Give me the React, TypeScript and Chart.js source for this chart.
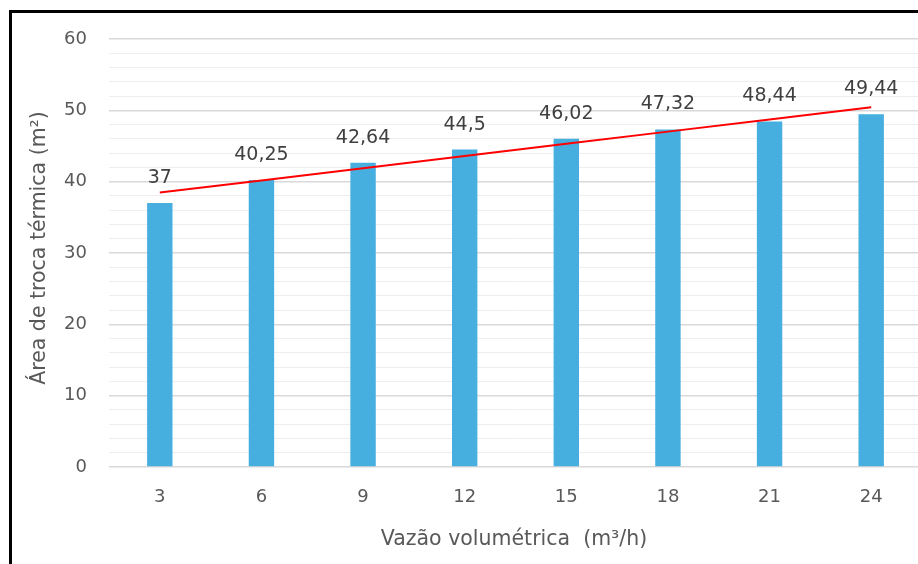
import React, { useEffect, useRef } from "react";
import { Chart, registerables } from "chart.js";

Chart.register(...registerables);

// Volumetric flow rate (m³/h) and the resulting heat-exchange area (m²)
const flowRates: string[] = ["3", "6", "9", "12", "15", "18", "21", "24"];
const areaValues: number[] = [37, 40.25, 42.64, 44.5, 46.02, 47.32, 48.44, 49.44];
const yTickValues: number[] = [0, 10, 20, 30, 40, 50, 60];

const xTitle = "Vazão volumétrica  (m³/h)";
const yTitle = "Área de troca térmica (m²)";

// Least-squares linear trend of the area series
function linearTrend(values: number[]): number[] {
  const n = values.length;
  const xs = values.map((_, i) => i + 1);
  const mx = xs.reduce((a, b) => a + b, 0) / n;
  const my = values.reduce((a, b) => a + b, 0) / n;
  let sxy = 0;
  let sxx = 0;
  xs.forEach((x, i) => {
    sxy += (x - mx) * (values[i] - my);
    sxx += (x - mx) * (x - mx);
  });
  const slope = sxy / sxx;
  return xs.map((x) => my + slope * (x - mx));
}

const trendValues = linearTrend(areaValues);

const FONT = "'DejaVu Sans', sans-serif";
const TEXT = "#595959";

const framePlugin = {
  id: "frame",
  beforeDraw(chart: any) {
    const { ctx, width, height } = chart;
    ctx.save();
    ctx.fillStyle = "#ffffff";
    ctx.fillRect(0, 0, width, height);
    ctx.strokeStyle = "#000000";
    ctx.lineWidth = 3;
    ctx.strokeRect(10.5, 11.5, width + 100, height + 100);
    ctx.restore();
  },
};

const labelsPlugin = {
  id: "valueLabels",
  afterDatasetsDraw(chart: any) {
    const { ctx } = chart;
    const meta = chart.getDatasetMeta(0);
    ctx.save();
    ctx.font = `19px ${FONT}`;
    ctx.fillStyle = "#404040";
    ctx.textAlign = "center";
    ctx.textBaseline = "middle";
    meta.data.forEach((el: any, i: number) => {
      const txt = String(areaValues[i]).replace(".", ",");
      ctx.fillText(txt, el.x, el.y - 25);
    });
    ctx.restore();
  },
};

const titlesPlugin = {
  id: "axisTitles",
  afterDraw(chart: any) {
    const { ctx } = chart;
    ctx.save();
    ctx.font = `20.5px ${FONT}`;
    ctx.fillStyle = TEXT;
    ctx.textAlign = "center";
    ctx.textBaseline = "middle";
    ctx.fillText(xTitle, 514, 540);
    ctx.translate(40, 248);
    ctx.rotate(-Math.PI / 2);
    ctx.fillText(yTitle, 0, 0);
    ctx.restore();
  },
};

export default function App() {
  const canvasRef = useRef<HTMLCanvasElement | null>(null);

  useEffect(() => {
    document.body.style.overflow = "hidden";
    const canvas = canvasRef.current;
    if (!canvas) return;
    const chart = new Chart(canvas, {
      type: "bar",
      data: {
        labels: flowRates,
        datasets: [
          {
            type: "bar" as const,
            data: areaValues,
            backgroundColor: "#47afdf",
            categoryPercentage: 1,
            barPercentage: 0.25,
            order: 1,
          },
          {
            type: "line" as const,
            data: trendValues,
            borderColor: "#ff0000",
            borderWidth: 2,
            pointRadius: 0,
            fill: false,
            order: 0,
          },
        ],
      },
      options: {
        responsive: false,
        animation: false,
        devicePixelRatio: 1,
        layout: { padding: { top: 39, right: 8, left: 0, bottom: 0 } },
        plugins: {
          legend: { display: false },
          tooltip: { enabled: false },
        },
        scales: {
          x: {
            offset: true,
            grid: { display: false },
            border: { display: false },
            ticks: {
              color: TEXT,
              font: { family: FONT, size: 18 },
              padding: 12,
            },
            afterFit(scale: any) {
              scale.height = 97;
            },
          },
          y: {
            min: 0,
            max: 60,
            afterBuildTicks(scale: any) {
              const t: any[] = [];
              for (let v = 0; v <= 60; v += 2) t.push({ value: v });
              scale.ticks = t;
            },
            grid: {
              drawTicks: false,
              color: (c: any) =>
                yTickValues.includes(c.tick?.value) ? "#d9d9d9" : "#eeeeee",
              lineWidth: (c: any) => (yTickValues.includes(c.tick?.value) ? 1.5 : 1),
            },
            border: { display: false },
            ticks: {
              color: TEXT,
              font: { family: FONT, size: 18 },
              padding: 22,
              autoSkip: false,
              callback: (v: any) => (yTickValues.includes(Number(v)) ? String(v) : ""),
            },
            afterFit(scale: any) {
              scale.width = 109;
            },
          },
        },
      },
      plugins: [framePlugin, labelsPlugin, titlesPlugin],
    });
    return () => chart.destroy();
  }, []);

  return (
    <div
      style={{
        position: "fixed",
        left: 0,
        top: 0,
        width: 918,
        height: 564,
        overflow: "hidden",
        background: "#fff",
      }}
    >
      <canvas ref={canvasRef} width={930} height={564} style={{ display: "block" }} />
    </div>
  );
}
